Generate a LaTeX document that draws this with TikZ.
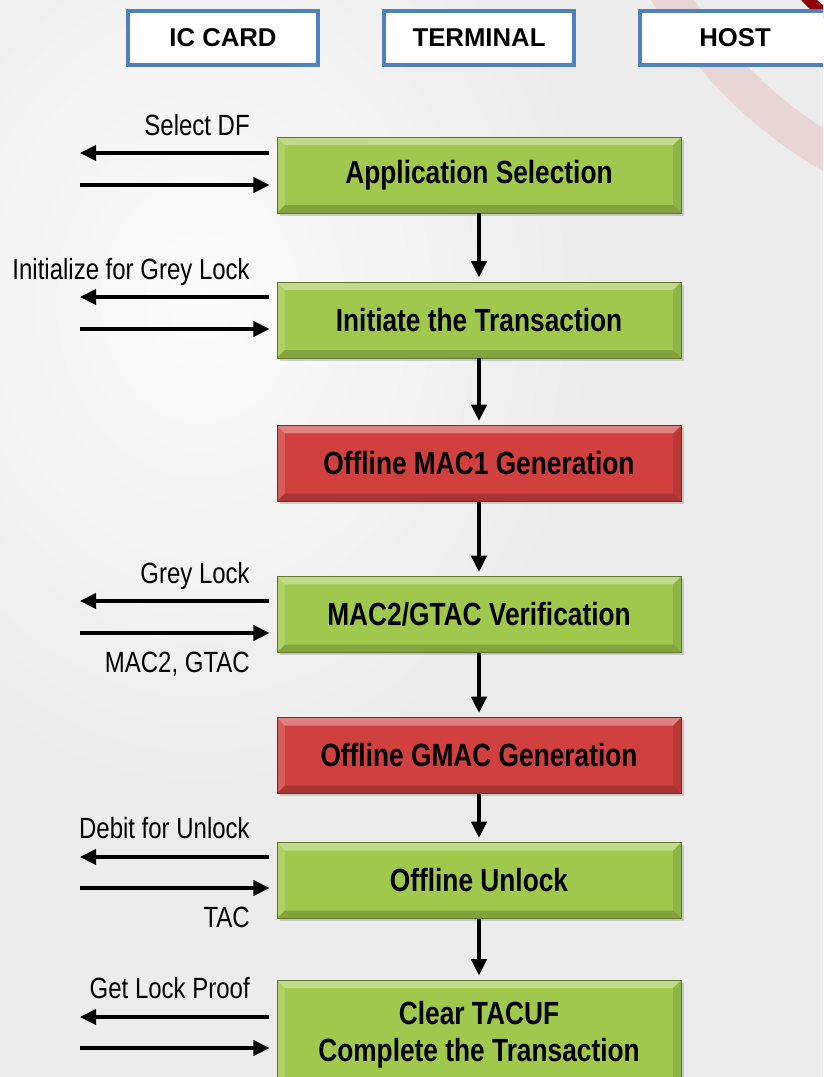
\documentclass[tikz,border=0pt]{standalone}
\usepackage{fontspec}
\setmainfont{Liberation Sans}
\newfontfamily\narrowfont[FakeStretch=0.82]{Liberation Sans}
\usepackage{tikz}
\usetikzlibrary{arrows.meta, positioning, shadows}
\definecolor{hblue}{RGB}{79,129,189}
\definecolor{sgreen}{RGB}{160,200,76}
\definecolor{sred}{RGB}{208,64,62}
\definecolor{bggray}{RGB}{236,236,236}
\definecolor{arcpink}{RGB}{226,160,164}

\tikzset{
  bevel/.style={path picture={
    \fill[white, opacity=.35] (path picture bounding box.north west) -- (path picture bounding box.north east)
      -- ([shift={(-0.2cm,-0.2cm)}]path picture bounding box.north east)
      -- ([shift={(0.2cm,-0.2cm)}]path picture bounding box.north west) -- cycle;
    \fill[black, opacity=.18] (path picture bounding box.south west) -- (path picture bounding box.south east)
      -- ([shift={(-0.2cm,0.2cm)}]path picture bounding box.south east)
      -- ([shift={(0.2cm,0.2cm)}]path picture bounding box.south west) -- cycle;
    \fill[white, opacity=.15] (path picture bounding box.north west) -- (path picture bounding box.south west)
      -- ([shift={(0.2cm,0.2cm)}]path picture bounding box.south west)
      -- ([shift={(0.2cm,-0.2cm)}]path picture bounding box.north west) -- cycle;
    \fill[black, opacity=.1] (path picture bounding box.north east) -- (path picture bounding box.south east)
      -- ([shift={(-0.2cm,0.2cm)}]path picture bounding box.south east)
      -- ([shift={(-0.2cm,-0.2cm)}]path picture bounding box.north east) -- cycle;
  }}
}

\begin{document}
\begin{tikzpicture}[x=0.025cm, y=-0.025cm,
  head/.style={
    rectangle, draw=hblue, fill=white, line width=2.8pt,
    minimum width=4.75cm, minimum height=1.33cm,
    font=\fontsize{18.3}{20}\selectfont\bfseries
  },
  stage/.style={
    rectangle, line width=0.6pt, bevel,
    minimum width=10.1cm, minimum height=1.9cm, align=center,
    font=\narrowfont\bfseries\fontsize{22.8}{26.5}\selectfont,
    drop shadow={opacity=0.35, shadow xshift=2pt, shadow yshift=-2pt}
  },
  gstage/.style={stage, fill=sgreen, draw=sgreen!60!black},
  rstage/.style={stage, fill=sred, draw=sred!60!black},
  lbl/.style={anchor=east, inner sep=0pt, text height=14.6pt, text depth=0pt,
    font=\narrowfont\fontsize{20.8}{24}\selectfont},
  flow/.style={-{Triangle[length=11.5pt, width=11pt]}, line width=2.2pt, shorten >=3pt},
  msg/.style={-{Triangle[length=11.5pt, width=11pt]}, line width=2.2pt}
]
  \useasboundingbox (0,0) rectangle (823,1077);
  \clip (0,0) rectangle (823,1077);

  % background
  \fill[bggray] (0,0) rectangle (823,1077);
  \shade[inner color=white, outer color=bggray, opacity=0.8] (200,300) ellipse (420 and 520);
  \draw[arcpink, line width=26pt, opacity=0.3] (660,-20) .. controls (720,80) and (780,125) .. (840,160);
  \draw[red!55!black, line width=8pt] (800,-10) .. controls (812,5) and (822,12) .. (835,20);

  % columns
  \node[head] (card) at (223,38) {IC CARD};
  \node[head] (term) at (479,38) {TERMINAL};
  \node[head] (host) at (735,38) {HOST};

  % stages
  \node[gstage] (sel) at (479,175) {Application Selection};
  \node[gstage] (init) at (479,320) {Initiate the Transaction};
  \node[rstage] (mac) at (479,463.5) {Offline MAC1 Generation};
  \node[gstage] (ver) at (479,614.5) {MAC2/GTAC Verification};
  \node[rstage] (gmac) at (479,755.5) {Offline GMAC Generation};
  \node[gstage] (unl) at (479,880.5) {Offline Unlock};
  \node[gstage, minimum height=2.75cm] (clr) at (479,1035) {Clear TACUF\\Complete the Transaction};

  \draw[flow] (sel) -- (init);
  \draw[flow] (init) -- (mac);
  \draw[flow] (mac) -- (ver);
  \draw[flow] (ver) -- (gmac);
  \draw[flow] (gmac) -- (unl);
  \draw[flow] (unl) -- (clr);

  % card side
  \coordinate (selout) at (80,153);
  \coordinate (selin) at (80,185);
  \coordinate (initout) at (80,297);
  \coordinate (initin) at (80,329);
  \coordinate (verout) at (80,601);
  \coordinate (verin) at (80,633);
  \coordinate (unlout) at (80,857);
  \coordinate (unlin) at (80,888);
  \coordinate (clrout) at (80,1017);
  \coordinate (clrin) at (80,1048);

  \draw[msg, shorten <=5pt] (sel.west |- selout) -- (selout);
  \draw[msg, shorten >=5pt] (selin) -- (sel.west |- selin);
  \draw[msg, shorten <=5pt] (init.west |- initout) -- (initout);
  \draw[msg, shorten >=5pt] (initin) -- (init.west |- initin);
  \draw[msg, shorten <=5pt] (ver.west |- verout) -- (verout);
  \draw[msg, shorten >=5pt] (verin) -- (ver.west |- verin);
  \draw[msg, shorten <=5pt] (unl.west |- unlout) -- (unlout);
  \draw[msg, shorten >=5pt] (unlin) -- (unl.west |- unlin);
  \draw[msg, shorten <=5pt] (clr.west |- clrout) -- (clrout);
  \draw[msg, shorten >=5pt] (clrin) -- (clr.west |- clrin);

  \node[lbl] (selcmd) at (250,125) {Select DF};
  \node[lbl] (initcmd) at (250,269) {Initialize for Grey Lock};
  \node[lbl] (vercmd) at (250,573) {Grey Lock};
  \node[lbl] (verrsp) at (250,662) {MAC2, GTAC};
  \node[lbl] (unlcmd) at (250,828) {Debit for Unlock};
  \node[lbl] (unlrsp) at (250,917) {TAC};
  \node[lbl] (clrcmd) at (250,988) {Get Lock Proof};
\end{tikzpicture}
\end{document}
